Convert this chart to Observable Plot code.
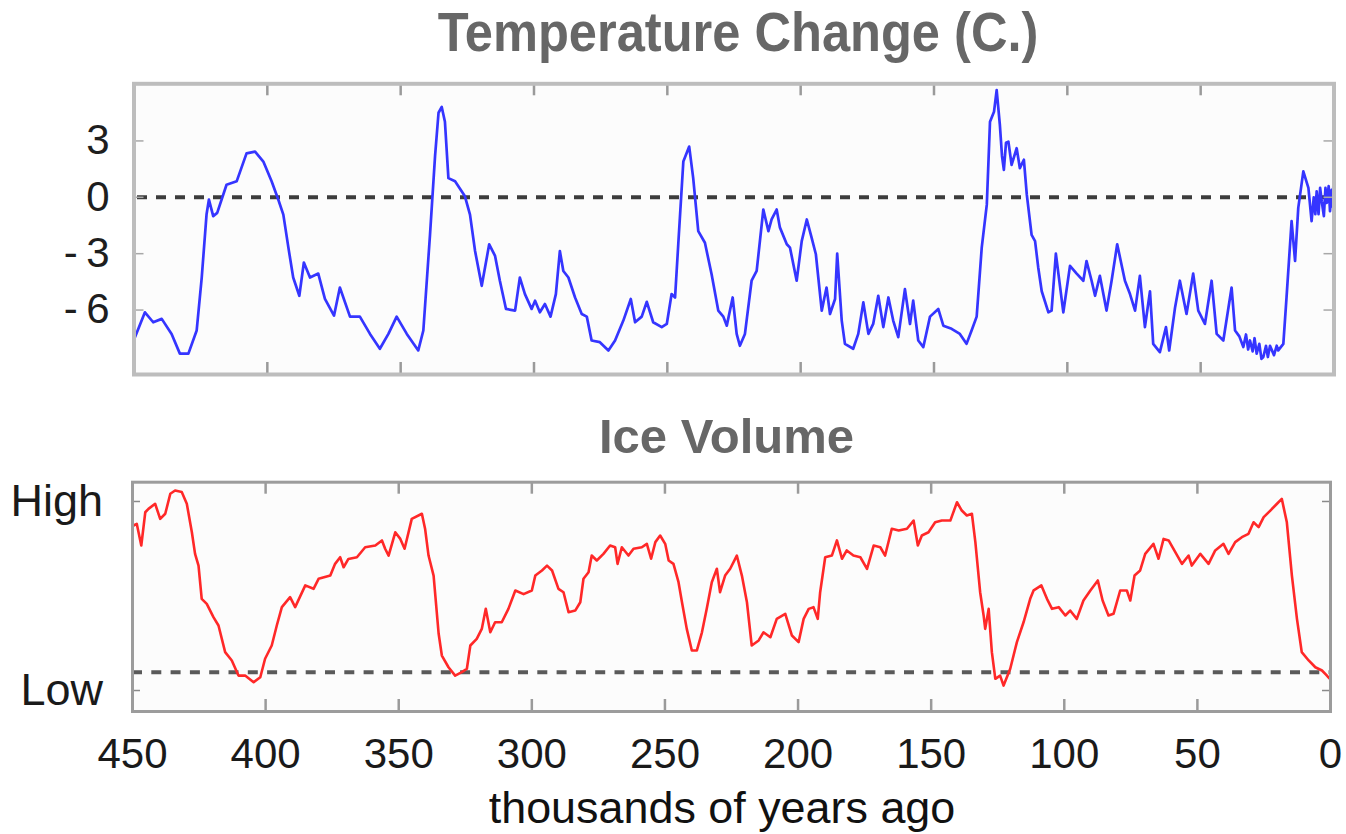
<!DOCTYPE html>
<html>
<head>
<meta charset="utf-8">
<script src="https://cdn.jsdelivr.net/npm/d3@7"></script>
<script src="https://cdn.jsdelivr.net/npm/@observablehq/plot@0.6"></script>
<style>
html, body { margin: 0; padding: 0; background: #ffffff; }
#wrap { position: relative; width: 1346px; height: 834px; overflow: hidden;
        font-family: "Liberation Sans", Arial, Helvetica, sans-serif; }
.title { position: absolute; white-space: nowrap; font-weight: bold; color: #676767;
         line-height: 1; text-align: center; }
#t1 { font-size: 55px; left: 238px; width: 1000px; top: 5.4px; transform: scaleX(0.92); transform-origin: 500px 0; }
#t2 { font-size: 49px; left: 226.5px; width: 1000px; top: 411.5px; }
#xlab { position: absolute; white-space: nowrap; font-size: 44px; color: #111; line-height: 1;
        left: 222px; width: 1000px; top: 786px; text-align: center; transform: scaleX(1.02); transform-origin: 500px 0; }
#p1 { position: absolute; left: 0; top: 70px; }
#p2 { position: absolute; left: 0; top: 460px; }
</style>
</head>
<body>
<div id="wrap">
  <div class="title" id="t1">Temperature Change (C.)</div>
  <div id="p1"></div>
  <div class="title" id="t2">Ice Volume</div>
  <div id="p2"></div>
  <div id="xlab">thousands of years ago</div>
</div>
<script>
// ---- data (thousands of years ago) ----
const tempAge = [449.6,445.9,442.8,439.6,435.9,432.8,429.6,426.5,424.6,422.8,421.9,420.3,418.8,415.3,411.5,407.8,404.6,401.5,398.4,395.9,394.0,392.1,390.3,388.0,386.3,384.0,380.9,378.4,375.0,372.8,369.0,365.3,361.5,357.8,354.6,351.5,347.7,343.4,341.5,339.0,337.1,335.8,334.6,333.4,332.1,329.6,325.9,324.0,322.1,319.6,316.8,314.6,312.8,310.5,307.1,305.3,303.4,300.9,299.6,297.8,295.9,293.8,291.8,290.3,289.0,287.1,284.6,282.1,280.2,278.4,275.3,272.1,269.6,266.5,263.7,262.1,259.6,257.7,255.3,252.1,250.2,248.4,247.1,245.9,244.0,241.8,240.3,238.4,235.9,233.4,230.9,229.0,227.7,225.5,224.0,222.8,220.9,218.4,216.5,214.0,212.1,210.9,209.0,207.8,205.2,204.0,201.5,199.6,197.7,195.9,194.3,192.1,190.3,189.0,187.1,186.3,184.6,183.4,180.3,178.4,176.5,174.6,172.8,170.9,169.0,167.1,165.3,163.4,160.9,159.0,157.8,155.9,154.0,151.5,148.4,146.5,143.4,140.3,137.8,135.9,134.0,132.1,130.2,129.0,127.5,126.5,125.3,124.5,123.8,123.0,122.1,120.9,119.0,117.8,116.3,115.2,113.4,112.1,110.9,109.6,107.1,105.9,104.3,101.5,99.0,96.5,94.0,92.8,90.9,89.6,87.8,85.3,83.4,81.3,78.4,76.5,74.6,72.8,70.9,69.0,67.8,65.3,63.0,61.8,59.6,57.8,55.3,52.8,50.9,48.4,45.9,44.0,41.5,38.4,37.1,35.5,34.0,33.0,32.2,31.5,30.5,29.8,29.0,28.0,27.2,26.5,25.5,24.8,24.0,22.5,21.5,20.9,19.0,17.8,15.9,14.6,13.4,11.5,9.6,8.4,7.6,7.0,6.5,5.8,5.2,4.6,3.8,3.2,2.7,2.0,1.5,0.9,0.5,0.2];
const tempValue = [-7.44,-6.12,-6.65,-6.47,-7.27,-8.32,-8.32,-7.09,-4.27,-0.92,-0.12,-1.0,-0.83,0.67,0.85,2.34,2.43,1.9,0.85,-0.12,-0.92,-2.68,-4.27,-5.24,-3.47,-4.27,-4.06,-5.41,-6.3,-4.8,-6.35,-6.35,-7.27,-8.06,-7.27,-6.35,-7.27,-8.15,-7.09,-2.0,2.2,4.5,4.81,4.02,1.02,0.85,0.05,-0.92,-2.86,-4.71,-2.5,-3.12,-4.44,-5.94,-6.03,-4.27,-5.15,-5.94,-5.5,-6.12,-5.68,-6.35,-5.15,-2.86,-3.92,-4.27,-5.33,-6.21,-6.35,-7.62,-7.71,-8.15,-7.62,-6.56,-5.41,-6.65,-6.35,-5.56,-6.65,-6.91,-6.74,-5.15,-5.33,-2.5,1.9,2.7,1.02,-1.8,-2.42,-4.1,-6.03,-6.35,-6.83,-5.33,-7.27,-7.9,-7.27,-4.44,-3.92,-0.65,-1.8,-1.18,-0.65,-1.6,-2.5,-2.68,-4.44,-2.33,-1.18,-2.15,-3.03,-6.03,-4.8,-6.21,-5.41,-3.0,-6.56,-7.8,-8.06,-7.27,-5.59,-7.27,-6.74,-5.24,-6.91,-5.33,-6.56,-7.44,-4.89,-6.74,-5.5,-7.62,-7.97,-6.35,-5.94,-6.83,-7.0,-7.27,-7.8,-7.09,-6.35,-2.68,-0.39,4.02,4.55,5.7,3.85,2.2,1.46,2.9,2.96,1.73,2.61,1.55,2.0,0.14,-2.0,-2.33,-3.75,-5.0,-6.12,-6.03,-3.0,-6.12,-3.65,-4.06,-4.44,-3.39,-4.44,-5.24,-4.18,-6.03,-4.44,-2.5,-4.44,-5.15,-6.03,-4.18,-6.91,-5.0,-7.8,-8.24,-6.91,-8.15,-5.86,-4.44,-6.21,-4.06,-6.03,-6.74,-4.44,-7.27,-7.62,-4.8,-7.09,-7.4,-7.97,-7.3,-8.1,-7.62,-8.2,-7.5,-8.32,-7.8,-8.6,-8.5,-7.9,-8.5,-7.9,-8.4,-7.9,-8.15,-7.8,-5.33,-1.27,-3.39,-0.56,1.38,0.5,-1.27,0.0,-0.9,0.32,-0.9,0.5,-0.21,-1.0,0.5,-0.3,0.6,-0.74,0.4,-0.5,0.85];

const iceAge = [449.6,448.4,446.7,445.2,444.0,441.5,439.6,437.7,435.8,434.0,431.5,429.6,427.7,426.5,425.2,424.0,422.1,419.6,417.7,415.2,412.7,410.2,407.7,404.5,402.0,400.2,397.7,395.8,393.9,390.8,388.9,385.1,382.0,380.1,375.7,373.9,372.0,370.7,368.9,365.7,362.6,358.8,356.3,355.1,353.8,351.3,349.4,347.8,345.1,341.3,340.1,338.8,336.9,335.0,333.8,331.3,328.8,326.3,324.4,323.1,320.7,318.8,317.3,315.6,313.8,311.3,308.8,306.2,303.1,300.0,298.7,296.2,294.3,292.4,290.0,288.1,286.2,283.7,281.8,280.6,278.7,277.5,275.6,273.1,270.6,268.7,267.8,266.2,263.7,261.8,258.7,256.8,255.2,253.6,251.8,249.9,248.6,246.8,244.9,243.6,241.8,239.9,238.0,236.1,234.3,232.4,230.5,229.3,227.4,225.5,223.0,221.1,219.2,217.4,214.8,213.0,210.4,208.0,204.8,202.3,199.8,197.9,196.0,194.2,192.6,191.7,189.8,187.3,185.4,183.5,181.7,179.2,176.6,174.1,171.6,169.1,167.3,164.8,162.2,159.1,156.6,155.0,153.5,151.0,148.5,146.0,142.8,140.3,138.5,136.6,134.7,133.4,131.6,130.3,129.7,128.4,127.2,125.9,124.1,122.8,120.3,117.8,115.3,112.8,111.5,108.6,106.5,104.6,102.1,99.6,97.8,95.3,92.8,90.2,87.4,85.6,83.4,81.5,79.0,76.5,75.2,73.6,71.5,69.6,66.5,64.6,62.7,60.8,58.3,55.8,53.3,52.1,48.9,45.8,43.3,40.2,38.3,35.8,33.3,30.8,28.9,27.0,25.1,22.6,20.1,18.3,16.4,14.5,12.6,10.8,8.2,5.7,3.2,1.6,0.5];
const iceValue = [87.3,88.2,76.7,94.3,96.1,98.8,90.8,93.5,104.1,105.8,105.0,98.8,83.7,72.3,66.1,48.5,45.8,38.8,34.4,20.3,15.9,7.9,7.9,4.4,7.0,16.8,23.8,34.4,44.1,49.4,44.1,55.6,53.8,59.1,60.8,67.0,70.5,65.2,69.6,70.5,75.8,76.7,79.4,75.0,71.4,83.7,80.2,75.0,90.8,93.5,85.6,71.4,60.8,30.0,18.5,12.3,7.9,9.7,11.5,23.8,27.3,32.6,43.2,30.8,36.1,36.1,43.2,52.9,51.0,52.9,60.8,63.5,66.1,63.5,53.8,52.0,41.4,42.3,46.7,59.1,62.6,71.4,68.8,72.3,76.7,75.8,67.0,75.8,71.4,75.0,75.8,77.6,69.7,78.5,82.0,77.6,68.8,67.0,57.3,46.7,32.6,21.2,21.2,30.8,43.2,57.3,64.4,52.0,60.8,64.4,71.4,60.8,46.7,23.8,26.5,30.8,28.2,37.9,40.6,29.1,25.6,37.9,43.2,44.1,37.9,52.0,70.5,71.4,79.4,69.7,74.1,71.4,70.5,64.4,76.7,75.8,71.4,85.6,84.7,85.6,89.9,76.7,82.0,83.7,89.0,89.9,89.9,99.6,95.2,92.6,93.5,78.5,52.0,39.7,32.6,43.2,20.3,6.2,7.9,2.6,11.5,25.6,36.1,48.5,53.0,55.6,48.5,43.2,44.1,39.7,42.3,37.9,47.6,52.9,58.2,47.6,39.7,40.6,52.9,52.9,47.6,60.8,63.5,72.3,77.6,69.7,80.2,79.4,73.2,67.0,71.4,66.1,72.3,67.0,74.1,77.6,72.3,78.5,81.1,82.9,89.0,86.4,91.7,95.2,98.8,101.4,89.0,60.8,37.9,20.3,15.9,12.3,10.6,8.3,6.5];

const xTicks = [400, 350, 300, 250, 200, 150, 100, 50];
const xLabelTicks = [450, 400, 350, 300, 250, 200, 150, 100, 50, 0];
const tempTicks = [3, 0, -3, -6];
const tempRef = 0;
const iceTicks = [100, 0];
const iceTickLabels = ["High", "Low"];
const iceRef = 9.7;

// ---- tables ----
const temp = tempAge.map((a, i) => ({age: a, value: tempValue[i]}));
const ice = iceAge.map((a, i) => ({age: a, value: iceValue[i]}));

const W = 1346;
const fontFam = '"Liberation Sans", Arial, Helvetica, sans-serif';

// ---- top panel ----
const m1 = {top: 13.3, bottom: 16, left: 133.5, right: 12.5, height: 320};
const fh1 = m1.height - m1.top - m1.bottom;
const fw1 = W - m1.left - m1.right;
const p1 = Plot.plot({
  width: W, height: m1.height,
  marginTop: m1.top, marginBottom: m1.bottom, marginLeft: m1.left, marginRight: m1.right,
  x: {domain: [450, 0], axis: null},
  y: {domain: [-9.43, 6.04]},
  style: {fontFamily: fontFam, color: "#1e1e1e", background: "transparent", overflow: "visible"},
  marks: [
    Plot.frame({fill: "#fcfcfc", stroke: null}),
    Plot.ruleY([tempRef], {stroke: "#3c3c3c", strokeWidth: 4, strokeDasharray: "10,9", strokeDashoffset: -3.5}),
    Plot.line(temp, {x: "age", y: "value", stroke: "#3535ff", strokeWidth: 2.7, strokeLinejoin: "round"}),
    Plot.tickX(xTicks, {x: d => d, stroke: "#9a9a9a", strokeWidth: 2.5, insetBottom: fh1 - 12}),
    Plot.tickX(xTicks, {x: d => d, stroke: "#9a9a9a", strokeWidth: 2.5, insetTop: fh1 - 12}),
    Plot.tickY(tempTicks, {y: d => d, stroke: "#a8a8a8", strokeWidth: 1.5, insetRight: fw1 - 10}),
    Plot.tickY(tempTicks, {y: d => d, stroke: "#a8a8a8", strokeWidth: 1.5, insetLeft: fw1 - 10}),
    Plot.axisY(tempTicks, {tickSize: 0, tickPadding: 24.5, fontSize: 42, label: null,
      tickFormat: d => d < 0 ? "-\u2009" + Math.abs(d) : String(d)}),
    Plot.frame({stroke: "#bdbdbd", strokeWidth: 4})
  ]
});
document.getElementById("p1").appendChild(p1);

// ---- bottom panel ----
const m2 = {top: 21.7, bottom: 69, left: 132, right: 16, height: 320};
const fh2 = m2.height - m2.top - m2.bottom;
const fw2 = W - m2.left - m2.right;
const p2 = Plot.plot({
  width: W, height: m2.height,
  marginTop: m2.top, marginBottom: m2.bottom, marginLeft: m2.left, marginRight: m2.right,
  x: {domain: [450, 0]},
  y: {domain: [-11.1, 110.2]},
  style: {fontFamily: fontFam, color: "#1a1a1a", background: "transparent", overflow: "visible"},
  marks: [
    Plot.frame({fill: "#fcfcfc", stroke: null}),
    Plot.ruleY([iceRef], {stroke: "#5a5a5a", strokeWidth: 4, strokeDasharray: "10,9.3"}),
    Plot.line(ice, {x: "age", y: "value", stroke: "#ff2828", strokeWidth: 2.6, strokeLinejoin: "round"}),
    Plot.tickX(xTicks, {x: d => d, stroke: "#9a9a9a", strokeWidth: 2.5, insetBottom: fh2 - 12}),
    Plot.tickX(xTicks, {x: d => d, stroke: "#9a9a9a", strokeWidth: 2.5, insetTop: fh2 - 12}),
    Plot.tickY(iceTicks, {y: d => d, stroke: "#8a8a8a", strokeWidth: 1.5, insetRight: fw2 - 8}),
    Plot.tickY(iceTicks, {y: d => d, stroke: "#8a8a8a", strokeWidth: 1.5, insetLeft: fw2 - 8}),
    Plot.axisY(iceTicks, {tickSize: 0, tickPadding: 29.5, fontSize: 45, label: null,
      tickFormat: d => iceTickLabels[iceTicks.indexOf(d)]}),
    Plot.axisX(xLabelTicks, {tickSize: 0, tickPadding: 27, fontSize: 42, label: null,
      tickFormat: d => String(d)}),
    Plot.frame({stroke: "#9c9c9c", strokeWidth: 3})
  ]
});
document.getElementById("p2").appendChild(p2);
</script>
</body>
</html>
